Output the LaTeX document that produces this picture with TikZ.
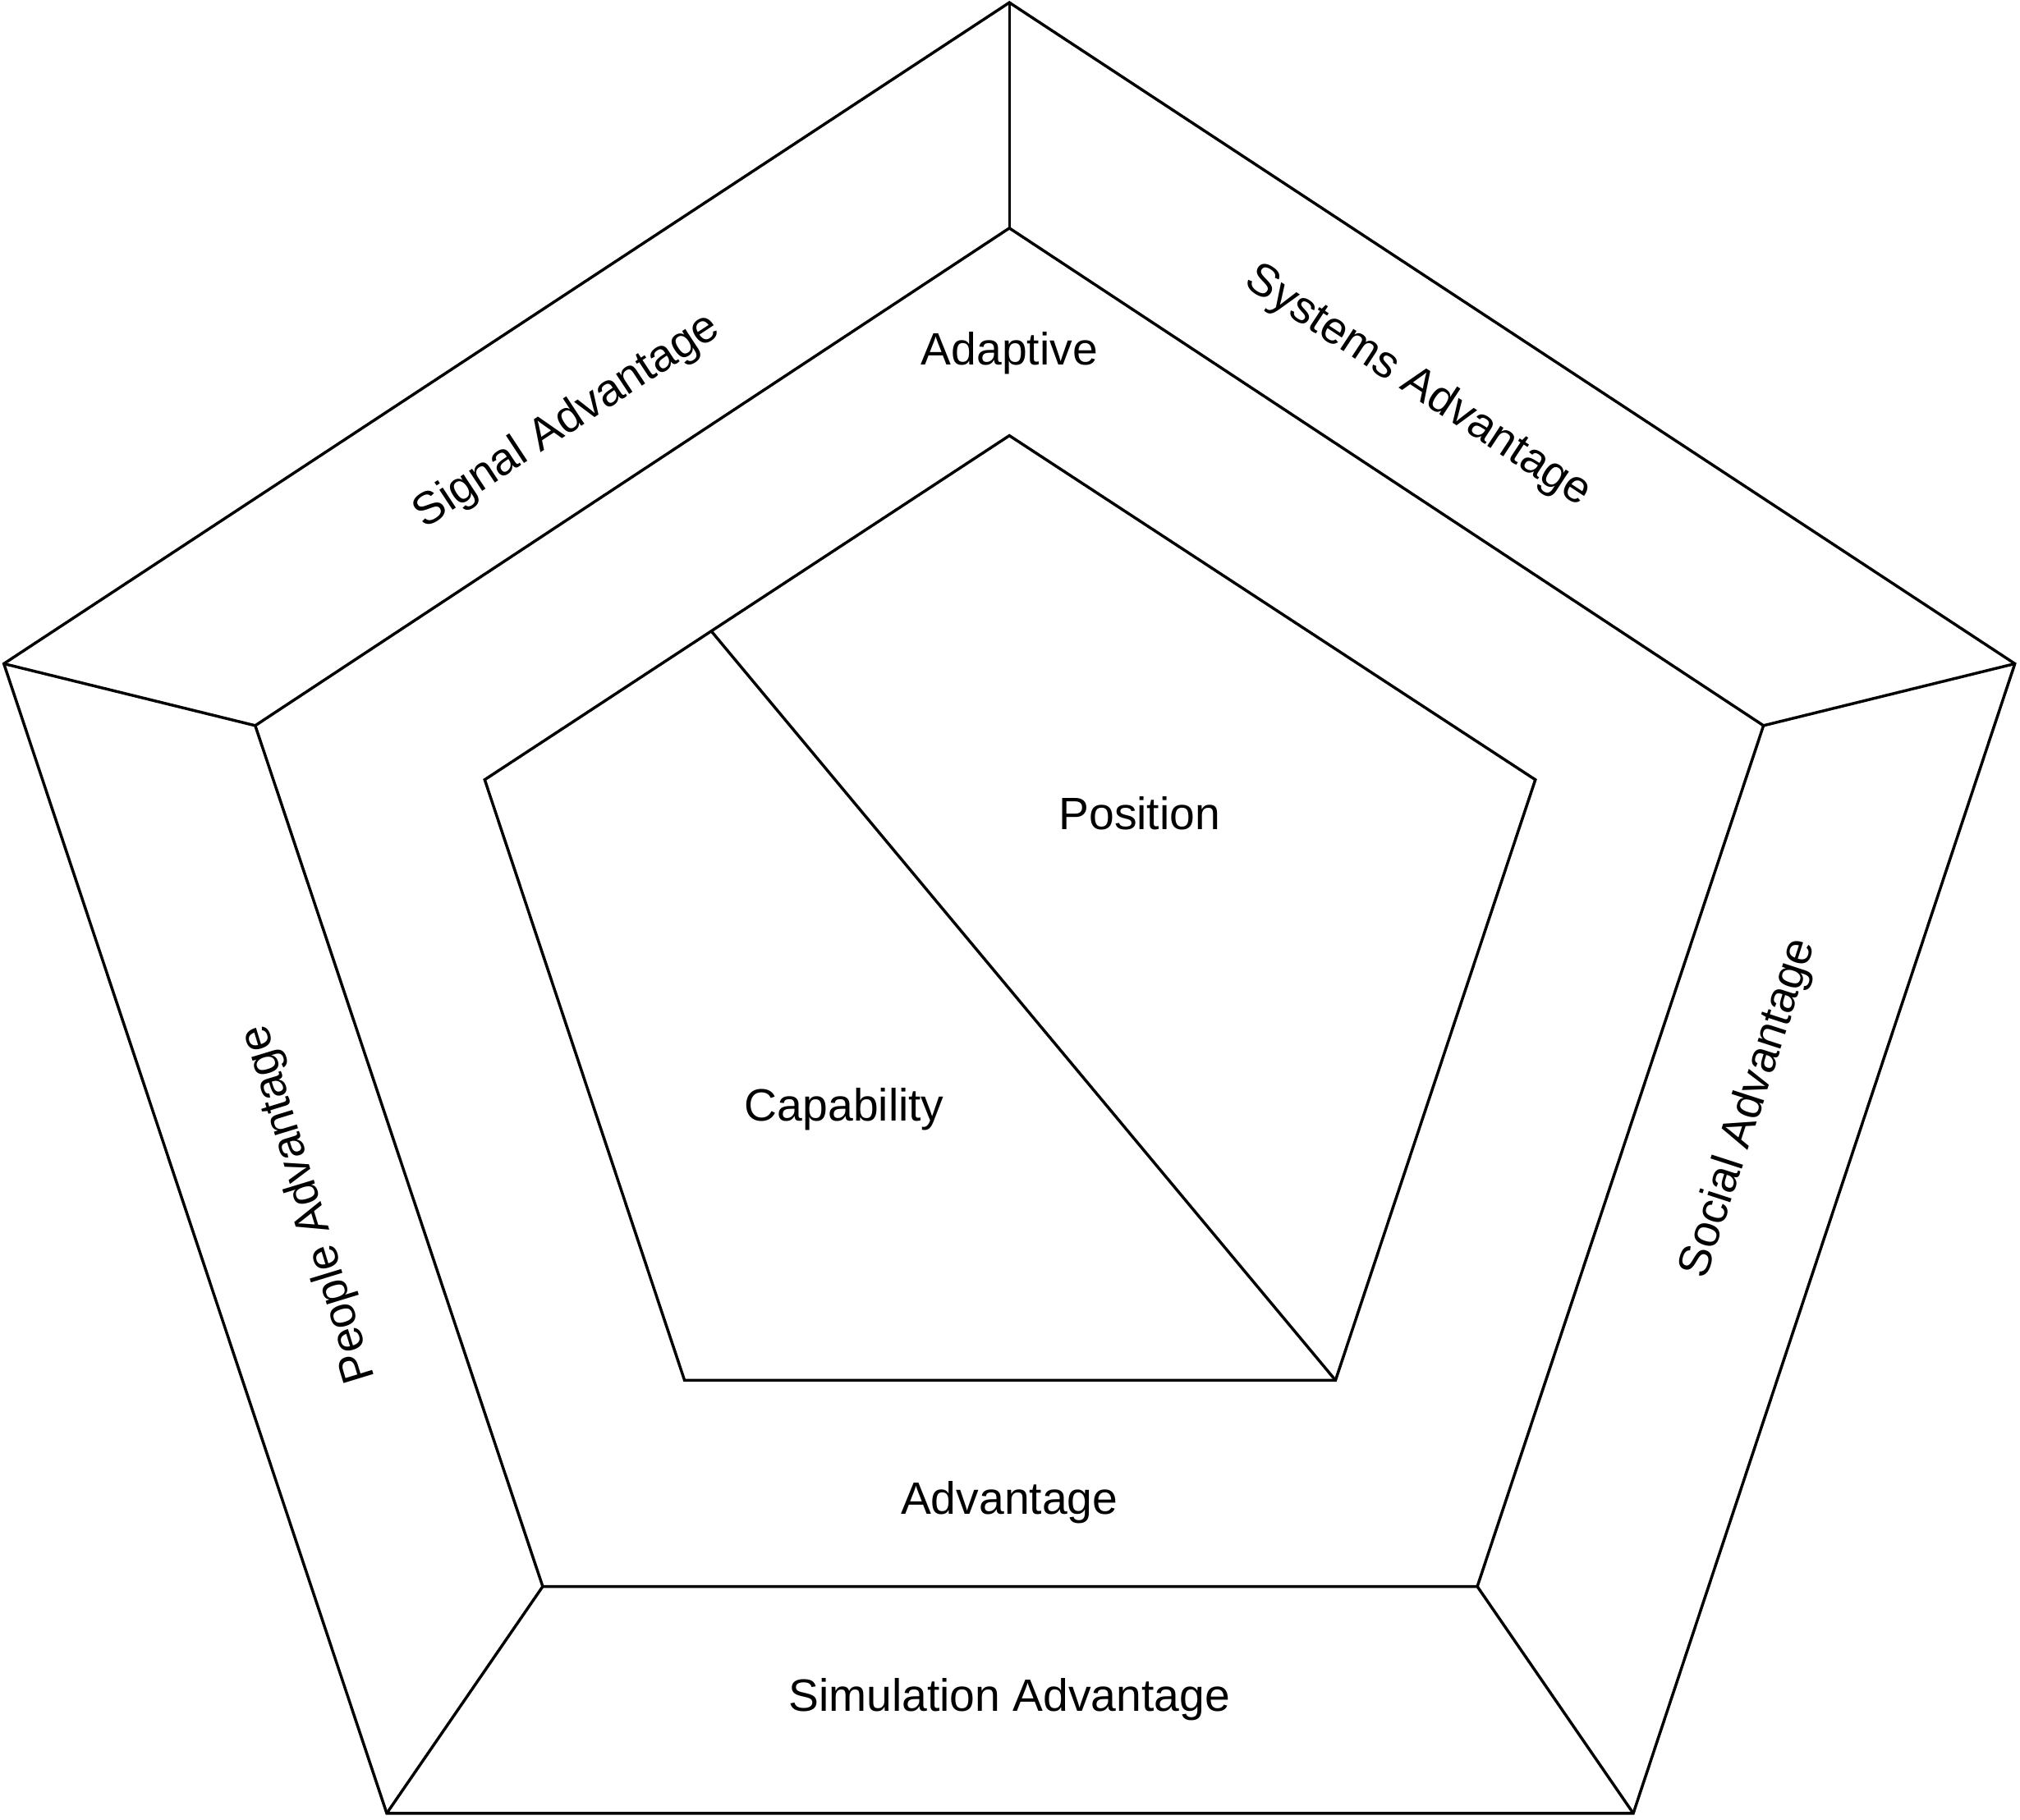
\documentclass[tikz,border=0pt]{standalone}
\usepackage{fontspec}
\setmainfont{Liberation Sans}
\usetikzlibrary{positioning}
\tikzset{
    edge/.style={black, line width=1.1pt, line join=miter},
    lbl/.style={font=\fontsize{17.6}{20}\selectfont, inner sep=1pt}
}
\begin{document}
\begin{tikzpicture}[x=0.5pt, y=-0.5pt]
    \useasboundingbox (0,0) rectangle (1567,1412);

    % outer, middle and inner corners
    \foreach \name/\x/\y in {
        oT/783/2, oR/1563/515, oBR/1267/1407, oBL/300/1407, oL/3/515,
        mT/783/177, mR/1368/563, mBR/1146/1231, mBL/421/1231, mL/198/563,
        iT/783/338, iR/1191/605, iBR/1036/1071, iBL/531/1071, iL/376/605,
        cut/552/490}
    {
        \coordinate (\name) at (\x,\y);
    }

    % pentagons
    \draw[edge] (oT) -- (oR) -- (oBR) -- (oBL) -- (oL) -- cycle;
    \draw[edge] (mT) -- (mR) -- (mBR) -- (mBL) -- (mL) -- cycle;
    \draw[edge] (iT) -- (iR) -- (iBR) -- (iBL) -- (iL) -- cycle;

    % spokes
    \foreach \c in {T,R,BR,BL,L}
    {
        \draw[edge] (o\c) -- (m\c);
    }
    \draw[edge] (cut) -- (iBR);

    % labels
    \node[lbl] (adaptive) at (783,274) {Adaptive};
    \node[lbl] (position) at (884,631) {Position};
    \node[lbl] (capability) at (655,861) {Capability};
    \node[lbl] (advantage) at (783,1166) {Advantage};
    \node[lbl] (simulation) at (783,1319) {Simulation Advantage};
    \node[lbl, rotate=33.3] (signal) at (440,327) {Signal Advantage};
    \node[lbl, rotate=-33.3] (systems) at (1100,300) {Systems Advantage};
    \node[lbl, rotate=107] (people) at (240,934) {People Advantage};
    \node[lbl, rotate=72] (social) at (1357,860) {Social Advantage};
\end{tikzpicture}
\end{document}
